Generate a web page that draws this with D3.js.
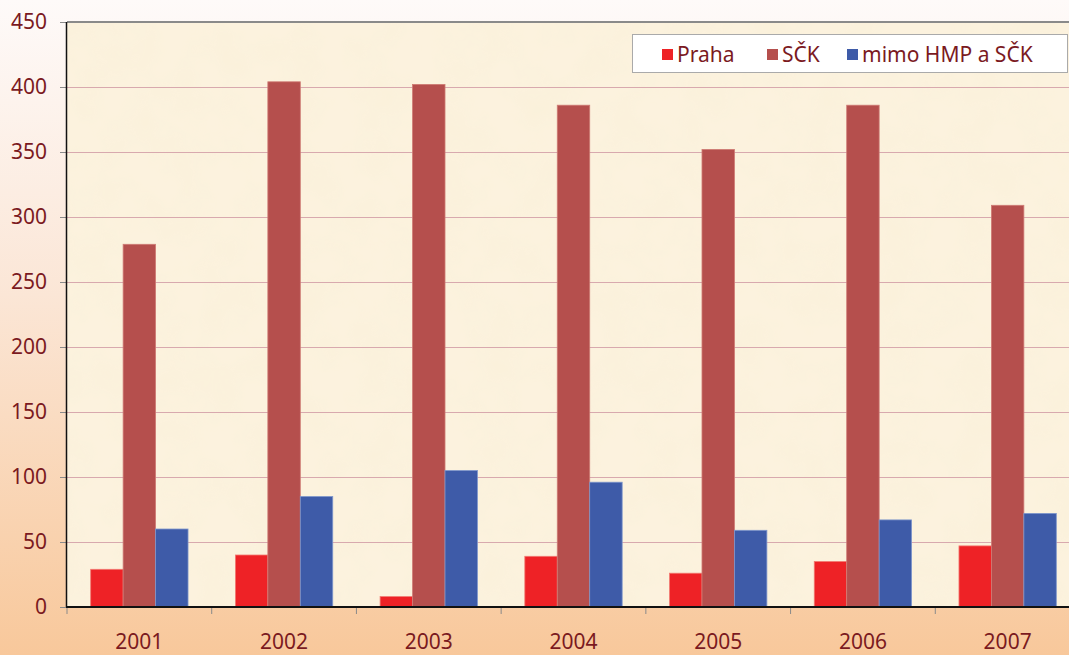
<!DOCTYPE html>
<html>
<head>
<meta charset="utf-8">
<script src="https://cdn.jsdelivr.net/npm/d3@7"></script>
<style>
  html, body { margin: 0; padding: 0; overflow: hidden; }
  svg { display: block; }
</style>
</head>
<body>
<div id="chart"></div>
<script>
const years = ['2001', '2002', '2003', '2004', '2005', '2006', '2007'];
const seriesNames = ['Praha', 'SČK', 'mimo HMP a SČK'];
const praha = [29, 40, 8, 39, 26, 35, 47];
const sck = [279, 404, 402, 386, 352, 386, 309];
const mimo = [60, 85, 105, 96, 59, 67, 72];
const yTicks = [0, 50, 100, 150, 200, 250, 300, 350, 400, 450];

const COLORS = { 'Praha': '#ee2226', 'SČK': '#b54f4d', 'mimo HMP a SČK': '#3e5ba8' };
const STROKES = { 'Praha': '#f27a72', 'SČK': '#cf7b74', 'mimo HMP a SČK': '#7f97cc' };
const TEXT = '#7b1a1f';
const FONT = '"Noto Sans", "Open Sans", sans-serif';
const FONT_SIZE = 21;

const width = 1069, height = 655;
const plot = { left: 67, right: 1080, top: 22, bottom: 607 };

const svg = d3.select('#chart').append('svg')
    .attr('width', width)
    .attr('height', height);

const defs = svg.append('defs');

// outer peach gradient
const grad = defs.append('linearGradient')
    .attr('id', 'bg').attr('x1', 0).attr('y1', 0).attr('x2', 0).attr('y2', 1);
grad.append('stop').attr('offset', '0%').attr('stop-color', '#fefaf9');
grad.append('stop').attr('offset', '45%').attr('stop-color', '#fbe6d6');
grad.append('stop').attr('offset', '100%').attr('stop-color', '#f8c89b');

// parchment texture
const tex = defs.append('filter').attr('id', 'paper')
    .attr('x', 0).attr('y', 0).attr('width', 1).attr('height', 1);
tex.append('feTurbulence')
    .attr('type', 'fractalNoise')
    .attr('baseFrequency', 0.025)
    .attr('numOctaves', 3)
    .attr('seed', 4)
    .attr('result', 'noise');
tex.append('feColorMatrix')
    .attr('in', 'noise')
    .attr('type', 'matrix')
    .attr('values', '0 0 0 0 0.93  0 0 0 0 0.86  0 0 0 0 0.66  0 0 0 0.55 -0.18')
    .attr('result', 'tint');
tex.append('feComposite').attr('in', 'tint').attr('in2', 'SourceGraphic').attr('operator', 'in');

svg.append('rect')
    .attr('width', width).attr('height', height)
    .attr('fill', 'url(#bg)');

// plot area
svg.append('rect')
    .attr('x', plot.left).attr('y', plot.top)
    .attr('width', plot.right - plot.left).attr('height', plot.bottom - plot.top)
    .attr('fill', '#fcf2de');
svg.append('rect')
    .attr('x', plot.left).attr('y', plot.top)
    .attr('width', plot.right - plot.left).attr('height', plot.bottom - plot.top)
    .attr('fill', '#fff')
    .attr('filter', 'url(#paper)');

const x = d3.scaleBand()
    .domain(years)
    .range([plot.left, plot.right]);

const x1 = d3.scaleBand()
    .domain(seriesNames)
    .range([0, x.bandwidth()])
    .paddingInner(0)
    .paddingOuter(0.73);

const y = d3.scaleLinear()
    .domain([0, 450])
    .range([plot.bottom, plot.top]);

// gridlines
svg.append('g')
    .selectAll('line')
    .data(yTicks.filter(t => t > 0 && t < 450))
    .join('line')
    .attr('x1', plot.left).attr('x2', plot.right)
    .attr('y1', d => y(d) + 0.5).attr('y2', d => y(d) + 0.5)
    .attr('stroke', '#d8a9ae')
    .attr('stroke-width', 1);

// top border
svg.append('line')
    .attr('x1', plot.left).attr('x2', plot.right)
    .attr('y1', plot.top).attr('y2', plot.top)
    .attr('stroke', '#8a8a8a').attr('stroke-width', 2);

// bars
const rows = years.map((yr, i) => ({
    year: yr,
    values: [
        { name: 'Praha', value: praha[i] },
        { name: 'SČK', value: sck[i] },
        { name: 'mimo HMP a SČK', value: mimo[i] }
    ]
}));

svg.append('g')
    .selectAll('g')
    .data(rows)
    .join('g')
    .attr('transform', d => `translate(${x(d.year)},0)`)
    .selectAll('rect')
    .data(d => d.values)
    .join('rect')
    .attr('x', d => x1(d.name))
    .attr('y', d => y(d.value))
    .attr('width', x1.bandwidth())
    .attr('height', d => y(0) - y(d.value))
    .attr('fill', d => COLORS[d.name])
    .attr('stroke', d => STROKES[d.name])
    .attr('stroke-width', 0.8);

// y axis
const yAxis = d3.axisLeft(y)
    .tickValues(yTicks)
    .tickSize(7)
    .tickPadding(13);
const gy = svg.append('g')
    .attr('transform', `translate(${plot.left},0)`)
    .call(yAxis);
gy.select('.domain').remove();
gy.selectAll('.tick line').attr('stroke', '#8a8a8a');
gy.selectAll('.tick text')
    .attr('fill', TEXT)
    .attr('font-family', FONT)
    .attr('font-size', FONT_SIZE);
svg.append('line')
    .attr('x1', plot.left - 0.5).attr('x2', plot.left - 0.5)
    .attr('y1', plot.top).attr('y2', plot.bottom)
    .attr('stroke', '#111').attr('stroke-width', 1.5);

// x axis
svg.append('g')
    .selectAll('line')
    .data(years)
    .join('line')
    .attr('x1', d => x(d)).attr('x2', d => x(d))
    .attr('y1', plot.bottom).attr('y2', plot.bottom + 7)
    .attr('stroke', '#8a8a8a');
const xAxis = d3.axisBottom(x).tickSize(0).tickPadding(27);
const gx = svg.append('g')
    .attr('transform', `translate(0,${plot.bottom})`)
    .call(xAxis);
gx.select('.domain').remove();
gx.selectAll('.tick text')
    .attr('fill', TEXT)
    .attr('font-family', FONT)
    .attr('font-size', FONT_SIZE);
svg.append('line')
    .attr('x1', plot.left - 1).attr('x2', plot.right)
    .attr('y1', plot.bottom).attr('y2', plot.bottom)
    .attr('stroke', '#111').attr('stroke-width', 2);

// legend
const legend = svg.append('g');
legend.append('rect')
    .attr('x', 632.5).attr('y', 34.5)
    .attr('width', 435).attr('height', 38)
    .attr('fill', '#fff')
    .attr('stroke', '#aaa');
const legendX = [662, 767, 847];
const items = legend.selectAll('g')
    .data(seriesNames)
    .join('g')
    .attr('transform', (d, i) => `translate(${legendX[i]},0)`);
items.append('rect')
    .attr('x', 0).attr('y', 49)
    .attr('width', 11).attr('height', 11)
    .attr('fill', d => COLORS[d]);
items.append('text')
    .attr('x', 15).attr('y', 62)
    .attr('fill', TEXT)
    .attr('font-family', FONT)
    .attr('font-size', FONT_SIZE)
    .text(d => d);
</script>
</body>
</html>
